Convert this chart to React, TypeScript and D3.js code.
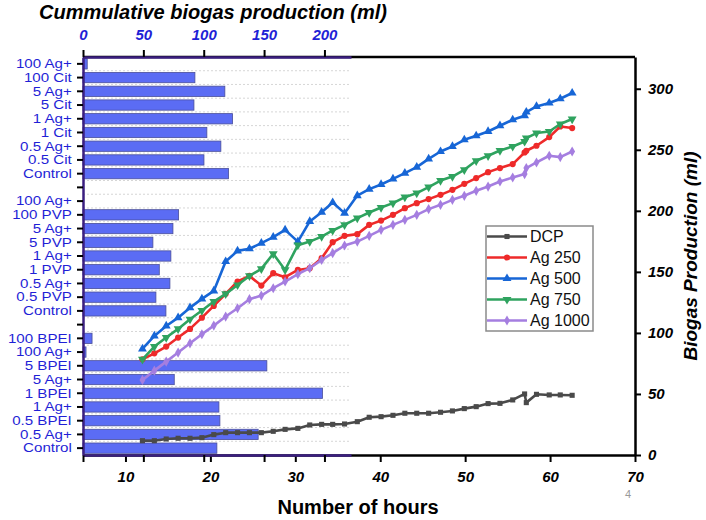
import { useEffect, useRef } from 'react';
import * as d3 from 'd3';

// bar chart (top axis) categories, grouped by capping agent
const citLabels = ['100 Ag+', '100 Cit', '5 Ag+', '5 Cit', '1 Ag+', '1 Cit', '0.5 Ag+', '0.5 Cit', 'Control'];
const citValues = [3.5, 92.7, 117.5, 91.9, 123.9, 102.6, 114.2, 100.2, 120.6];
const pvpLabels = ['100 Ag+', '100 PVP', '5 Ag+', '5 PVP', '1 Ag+', '1 PVP', '0.5 Ag+', '0.5 PVP', 'Control'];
const pvpValues = [0, 79.2, 74.5, 57.9, 72.8, 63.2, 72.0, 60.4, 68.7];
const bpeiLabels = ['100 BPEI', '100 Ag+', '5 BPEI', '5 Ag+', '1 BPEI', '1 Ag+', '0.5 BPEI', '0.5 Ag+', 'Control'];
const bpeiValues = [7.5, 2.5, 152.3, 75.6, 198.4, 112.6, 113.4, 145.1, 110.9];
const topTicks = [0, 50, 100, 150, 200];

// line chart (bottom / right axes)
const hours = [12.0, 13.4, 14.8, 16.2, 17.6, 19.0, 20.4, 21.8, 23.2, 24.6, 26.0, 27.4, 28.8, 30.3, 31.7, 33.1, 34.4, 35.8, 37.3, 38.7, 40.1, 41.5, 42.9, 44.3, 45.7, 47.1, 48.5, 49.9, 51.3, 52.7, 54.1, 55.6, 57.0, 57.2, 58.4, 59.9, 61.2, 62.6];
const dcp = [11.7, 11.7, 13.1, 13.7, 13.7, 14.2, 16.7, 18.3, 18.3, 18.3, 18.3, 19.4, 21.0, 21.8, 24.6, 25.1, 25.1, 25.4, 27.3, 30.9, 31.4, 32.5, 34.2, 34.2, 34.2, 35.0, 36.1, 38.0, 39.6, 42.1, 42.3, 45.1, 50.0, 42.9, 49.7, 49.2, 49.2, 48.9];
const ag250 = [78.4, 83.3, 88.8, 96.2, 103.3, 112.5, 122.1, 132.0, 142.1, 146.7, 138.8, 148.9, 145.6, 151.6, 153.0, 161.2, 174.3, 179.5, 180.9, 188.5, 192.0, 196.7, 202.2, 206.3, 209.6, 213.1, 217.2, 222.1, 226.8, 231.7, 235.0, 238.3, 247.8, 249.2, 253.3, 260.4, 269.1, 267.8];
const ag500 = [86.9, 97.5, 105.7, 112.5, 120.7, 127.9, 134.4, 158.5, 167.2, 168.9, 173.5, 178.4, 184.4, 174.8, 191.3, 198.9, 206.8, 198.1, 212.5, 217.8, 221.6, 226.2, 230.9, 235.8, 242.6, 248.6, 252.7, 258.2, 261.5, 265.0, 269.7, 274.6, 277.9, 280.9, 285.5, 288.3, 291.8, 296.5];
const ag750 = [78.4, 88.8, 96.2, 103.3, 111.2, 118.3, 125.7, 132.0, 139.3, 146.7, 152.5, 164.8, 151.6, 171.9, 174.8, 178.9, 183.9, 188.5, 194.0, 198.6, 202.7, 206.3, 211.2, 214.5, 219.4, 224.8, 228.1, 233.6, 241.0, 245.1, 249.4, 252.7, 256.8, 259.6, 263.7, 265.0, 271.1, 275.2];
const ag1000 = [61.5, 69.1, 76.5, 83.9, 91.5, 98.9, 106.0, 113.4, 120.2, 127.6, 130.6, 136.6, 142.1, 148.1, 153.0, 159.8, 165.3, 171.6, 174.8, 179.5, 184.4, 188.5, 192.6, 196.7, 201.4, 204.9, 209.0, 212.3, 216.4, 219.9, 224.0, 227.3, 230.1, 235.0, 239.6, 245.1, 244.0, 248.6];
const seriesNames = ['DCP', 'Ag 250', 'Ag 500', 'Ag 750', 'Ag 1000'];
const seriesColors = ['#4a4a4a', '#ee2a2a', '#1766d6', '#2fa35f', '#a57ee0'];
const hourTicks = [10, 20, 30, 40, 50, 60, 70];
const rightTicks = [0, 50, 100, 150, 200, 250, 300];

const W = 706;
const H = 520;
const FONT = '"Liberation Sans", Arial, sans-serif';

const App = () => {
	const svgRef = useRef<SVGSVGElement>(null);

	useEffect(() => {
		if (!svgRef.current) return;
		const svg = d3.select(svgRef.current);
		svg.selectAll('*').remove();

		const left = 83;
		const right = 635;
		const top = 57;
		const bottom = 455;
		const barRight = 351;
		const purple = '#3b1f80';
		const labelBlue = '#1f1fd6';

		// rows: three groups with an empty slot between them
		type Row = { key: string; label: string; value: number | null };
		const rows: Row[] = [];
		const groups = [
			[citLabels, citValues],
			[pvpLabels, pvpValues],
			[bpeiLabels, bpeiValues],
		] as [string[], number[]][];
		groups.forEach(([labels, values], gi) => {
			if (gi > 0) rows.push({ key: `gap${gi}`, label: '', value: null });
			labels.forEach((l, i) => rows.push({ key: `g${gi}-${i}`, label: l, value: values[i] }));
		});

		const yBand = d3
			.scaleBand<string>()
			.domain(rows.map((r) => r.key))
			.range([top, bottom])
			.paddingInner(0.25)
			.paddingOuter(0.125);
		const xBar = d3.scaleLinear().domain([0, 222]).range([left, barRight]);
		const xLine = d3.scaleLinear().domain([5, 70]).range([left, right]);
		const yLine = d3.scaleLinear().domain([0, 326]).range([bottom, top]);

		// dotted grid lines between rows
		const step = yBand.step();
		const grid = svg.append('g');
		rows.forEach((_, i) => {
			if (i === 0) return;
			grid.append('line')
				.attr('x1', left)
				.attr('x2', barRight)
				.attr('y1', top + i * step)
				.attr('y2', top + i * step)
				.attr('stroke', '#d6d6d6')
				.attr('stroke-width', 1)
				.attr('stroke-dasharray', '2,2');
		});

		// bars
		svg.append('g')
			.selectAll('rect')
			.data(rows.filter((r) => r.value !== null && (r.value as number) > 0))
			.join('rect')
			.attr('x', xBar(0))
			.attr('y', (d) => yBand(d.key) as number)
			.attr('width', (d) => xBar(d.value as number) - xBar(0))
			.attr('height', yBand.bandwidth())
			.attr('fill', '#5b6cf4')
			.attr('stroke', '#4a4f9a')
			.attr('stroke-width', 0.8);

		// line chart frame: bottom and right axes
		const xAxis = svg
			.append('g')
			.attr('transform', `translate(0,${bottom})`)
			.call(d3.axisBottom(xLine).tickValues(hourTicks).tickSize(7).tickPadding(9).tickSizeOuter(0));
		xAxis.select('.domain').attr('stroke', '#000').attr('stroke-width', 2.5);
		xAxis.selectAll('.tick line').attr('stroke', '#000').attr('stroke-width', 2);
		xAxis.selectAll('text')
			.attr('fill', '#000')
			.style('font', `italic bold 15px ${FONT}`);

		const yAxis = svg
			.append('g')
			.attr('transform', `translate(${right},0)`)
			.call(d3.axisRight(yLine).tickValues(rightTicks).tickSize(6).tickPadding(7).tickSizeOuter(0));
		yAxis.select('.domain').attr('stroke', '#000').attr('stroke-width', 2.5);
		yAxis.selectAll('.tick line').attr('stroke', '#000').attr('stroke-width', 2);
		yAxis.selectAll('text')
			.attr('fill', '#000')
			.style('font', `italic bold 15px ${FONT}`);

		svg.append('line')
			.attr('x1', left)
			.attr('x2', right)
			.attr('y1', top)
			.attr('y2', top)
			.attr('stroke', '#000')
			.attr('stroke-width', 2.5);

		// bar chart axes (top, left, bottom ticks)
		const topAxis = svg
			.append('g')
			.attr('transform', `translate(0,${top})`)
			.call(d3.axisTop(xBar).tickValues(topTicks).tickSize(7).tickPadding(10).tickSizeOuter(0));
		topAxis.select('.domain').attr('stroke', purple).attr('stroke-width', 2.5);
		topAxis.selectAll('.tick line').attr('stroke', '#000').attr('stroke-width', 2);
		topAxis.selectAll('text')
			.attr('fill', labelBlue)
			.style('font', `italic bold 15px ${FONT}`);

		const barBottom = svg
			.append('g')
			.attr('transform', `translate(0,${bottom})`)
			.call(d3.axisBottom(xBar).tickValues(topTicks).tickSize(7).tickFormat(() => '').tickSizeOuter(0));
		barBottom.select('.domain').attr('stroke', purple).attr('stroke-width', 2.5);
		barBottom.selectAll('.tick line').attr('stroke', '#000').attr('stroke-width', 2);

		const leftAxis = svg
			.append('g')
			.attr('transform', `translate(${left},0)`)
			.call(
				d3
					.axisLeft(yBand)
					.tickSize(6)
					.tickPadding(4)
					.tickSizeOuter(0)
					.tickFormat((k) => rows.find((r) => r.key === k)?.label ?? '')
			);
		leftAxis.select('.domain').attr('stroke', purple).attr('stroke-width', 2.5);
		leftAxis.selectAll('.tick line').attr('stroke', '#000').attr('stroke-width', 2);
		leftAxis.selectAll('text')
			.attr('fill', labelBlue)
			.attr('transform', 'scale(1.12,1)')
			.style('font', `13.5px ${FONT}`);

		// lines
		const allSeries = [dcp, ag250, ag500, ag750, ag1000];
		const line = d3
			.line<number>()
			.x((_, i) => xLine(hours[i]))
			.y((d) => yLine(d));
		const symbols = [
			d3.symbol().type(d3.symbolSquare).size(26),
			d3.symbol().type(d3.symbolCircle).size(30),
			d3.symbol().type(d3.symbolTriangle).size(34),
			d3.symbol().type(d3.symbolTriangle).size(34),
			d3.symbol().type(d3.symbolDiamond).size(30),
		];
		const rotations = [0, 0, 0, 180, 0];

		allSeries.forEach((vals, si) => {
			const g = svg.append('g');
			g.append('path')
				.datum(vals)
				.attr('d', line)
				.attr('fill', 'none')
				.attr('stroke', seriesColors[si])
				.attr('stroke-width', 2.6)
				.attr('stroke-linejoin', 'round');
			g.selectAll('path.pt')
				.data(vals)
				.join('path')
				.attr('class', 'pt')
				.attr('d', symbols[si]() ?? '')
				.attr('transform', (d, i) => `translate(${xLine(hours[i])},${yLine(d)}) rotate(${rotations[si]})`)
				.attr('fill', seriesColors[si]);
		});

		// legend
		const lg = svg.append('g').attr('transform', 'translate(486,226)');
		lg.append('rect')
			.attr('width', 107)
			.attr('height', 105)
			.attr('fill', '#fff')
			.attr('stroke', '#8a8a8a')
			.attr('stroke-width', 1.5);
		seriesNames.forEach((name, i) => {
			const y = 10.5 + i * 21;
			lg.append('line')
				.attr('x1', 1)
				.attr('x2', 41)
				.attr('y1', y)
				.attr('y2', y)
				.attr('stroke', seriesColors[i])
				.attr('stroke-width', 2.6);
			lg.append('path')
				.attr('d', symbols[i]() ?? '')
				.attr('transform', `translate(21,${y}) rotate(${rotations[i]})`)
				.attr('fill', seriesColors[i]);
			lg.append('text')
				.attr('x', 44)
				.attr('y', y)
				.attr('dy', '0.36em')
				.text(name)
				.style('font', `16px ${FONT}`)
				.attr('fill', '#111');
		});

		// titles
		svg.append('text')
			.attr('x', 213)
			.attr('y', 19)
			.attr('text-anchor', 'middle')
			.text('Cummulative biogas production (ml)')
			.style('font', `italic bold 20px ${FONT}`)
			.attr('fill', '#000');
		svg.append('text')
			.attr('x', 358)
			.attr('y', 514)
			.attr('text-anchor', 'middle')
			.text('Number of hours')
			.style('font', `bold 20px ${FONT}`)
			.attr('fill', '#000');
		svg.append('text')
			.attr('transform', `translate(697,${(top + bottom) / 2}) rotate(-90)`)
			.attr('text-anchor', 'middle')
			.text('Biogas Production (ml)')
			.style('font', `italic bold 19px ${FONT}`)
			.attr('fill', '#000');
		svg.append('text')
			.attr('x', 628)
			.attr('y', 498)
			.attr('text-anchor', 'middle')
			.text('4')
			.style('font', `11px ${FONT}`)
			.attr('fill', '#999');
	}, []);

	return (
		<svg
			ref={svgRef}
			width={W}
			height={H}
			style={{ position: 'absolute', left: 0, top: 0, background: '#fff' }}
		></svg>
	);
};

export default App;
